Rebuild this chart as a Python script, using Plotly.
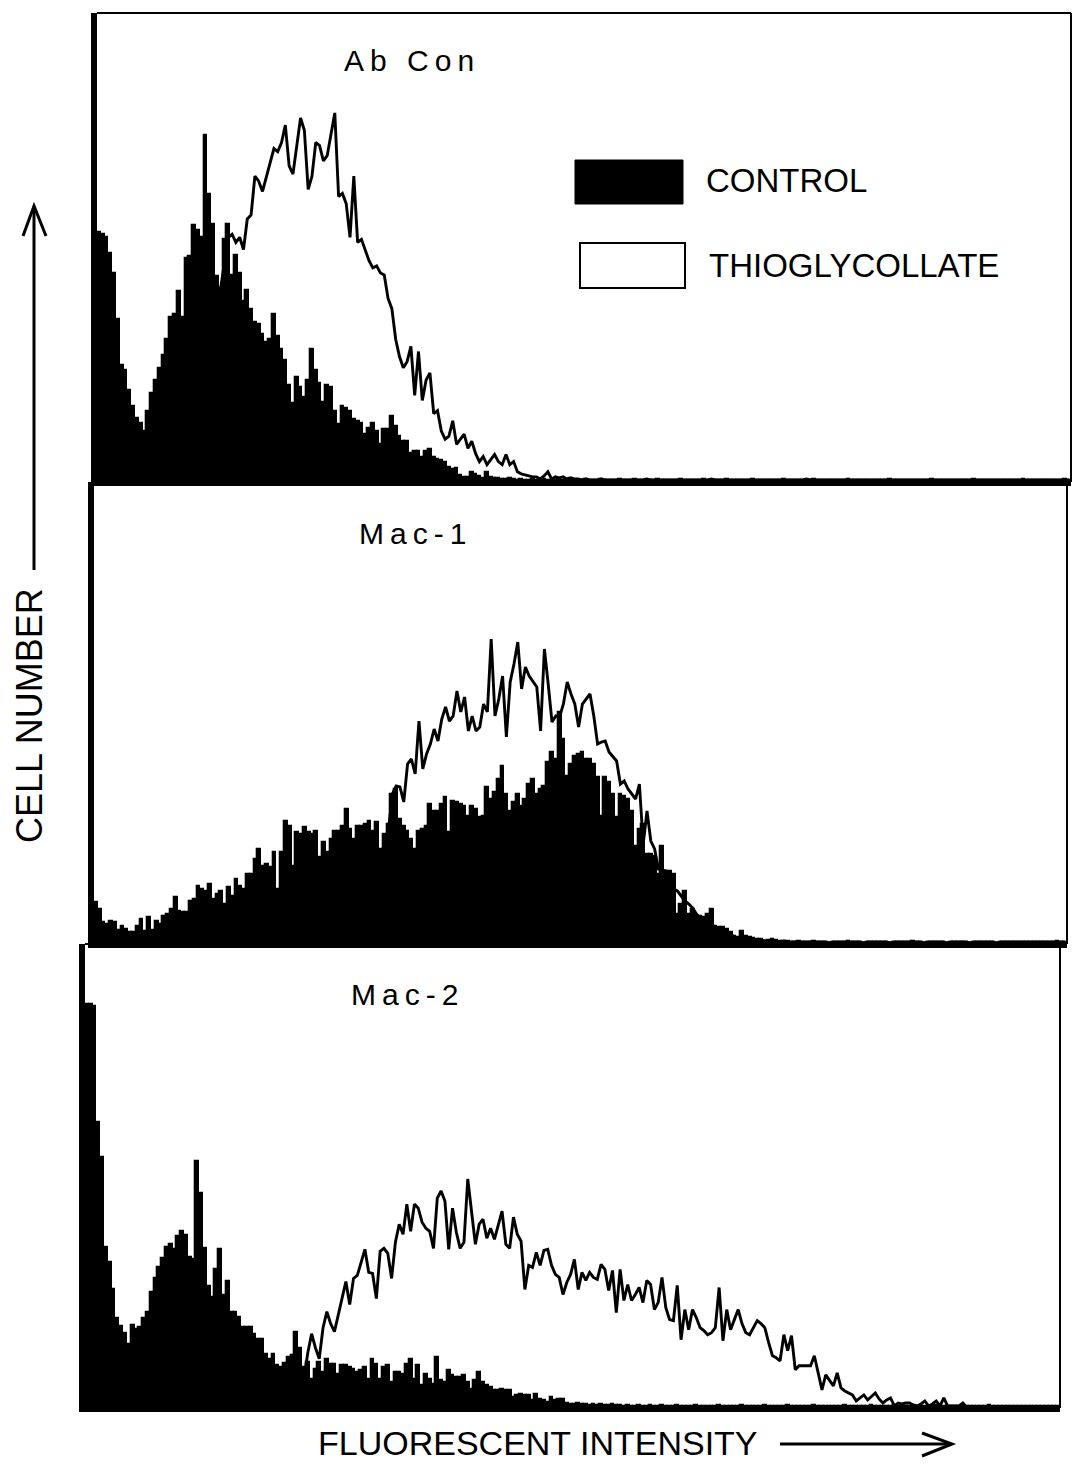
import plotly.graph_objects as go

# Flow cytometry histograms: 256 fluorescence channels per panel
channels = list(range(256))

panel_titles = ["Ab Con", "Mac-1", "Mac-2"]
series_names = ["CONTROL", "THIOGLYCOLLATE"]
x_axis_label = "FLUORESCENT INTENSITY"
y_axis_label = "CELL NUMBER"

# ---- Ab Con ----
abcon_control = [
    245, 243, 240, 225, 205, 160, 115, 110, 90, 75,
    63, 58, 50, 70, 87, 100, 112, 125, 140, 162,
    165, 187, 162, 220, 222, 252, 247, 240, 340, 282,
    253, 202, 190, 238, 253, 203, 223, 205, 178, 188,
    170, 157, 155, 145, 137, 140, 165, 143, 130, 120,
    95, 77, 103, 93, 83, 100, 130, 110, 97, 78,
    95, 93, 70, 57, 75, 73, 70, 62, 60, 58,
    47, 53, 58, 50, 37, 52, 52, 65, 55, 45,
    40, 40, 28, 30, 30, 25, 30, 32, 25, 23,
    22, 20, 15, 13, 14, 7, 5, 5, 10, 8,
    6, 4, 10, 5, 4, 4, 3, 3, 4, 3,
    2, 3, 2, 2, 3, 2, 2, 3, 2, 2,
    2, 3, 2, 2, 4, 2, 2, 2, 3, 2,
    2, 2, 3, 2, 2, 2, 2, 3, 2, 2,
    2, 3, 2, 2, 2, 2, 2, 3, 2, 2,
    2, 2, 2, 3, 2, 2, 2, 2, 2, 3,
    2, 2, 2, 2, 2, 3, 2, 2, 2, 2,
    2, 2, 3, 2, 2, 2, 2, 2, 2, 2,
    3, 2, 2, 2, 2, 2, 2, 2, 3, 2,
    2, 2, 2, 2, 2, 2, 2, 3, 2, 2,
    2, 2, 2, 2, 2, 2, 2, 2, 3, 2,
    2, 2, 2, 2, 2, 2, 2, 2, 2, 3,
    2, 2, 2, 2, 2, 2, 2, 2, 2, 2,
    3, 2, 2, 2, 2, 2, 2, 2, 2, 2,
    2, 2, 2, 3, 2, 2, 2, 2, 2, 2,
    2, 2, 2, 2, 3, 2,
]
abcon_thio = [
    20, 25, 22, 19, 18, 16, 15, 14, 14, 13,
    14, 16, 15, 19, 22, 24, 31, 33, 40, 45,
    55, 60, 72, 78, 95, 101, 118, 125, 141, 148,
    163, 178, 190, 215, 240, 243, 235, 240, 228, 258,
    262, 300, 295, 285, 300, 312, 327, 324, 333, 350,
    310, 302, 330, 357, 345, 287, 300, 333, 330, 315,
    320, 340, 362, 280, 283, 273, 240, 300, 235, 238,
    227, 217, 210, 212, 205, 203, 180, 170, 140, 123,
    112, 118, 133, 85, 128, 80, 100, 107, 67, 70,
    50, 42, 45, 60, 37, 42, 47, 33, 40, 28,
    20, 25, 17, 22, 27, 20, 17, 27, 17, 20,
    10, 8, 7, 6, 5, 5, 3, 6, 10, 3,
    5, 4, 5, 3, 4, 3, 3, 2, 3, 2,
    2, 2, 3, 2, 2, 2, 2, 2, 2, 2,
    2, 2, 2, 2, 3, 2, 2, 2, 2, 2,
    2, 2, 2, 2, 2, 2, 2, 2, 2, 2,
    2, 3, 2, 2, 2, 2, 2, 2, 2, 2,
    2, 2, 2, 2, 2, 2, 2, 2, 2, 2,
    2, 2, 2, 2, 2, 2, 3, 2, 2, 2,
    2, 2, 2, 2, 2, 2, 2, 2, 2, 2,
    2, 2, 2, 2, 2, 2, 2, 2, 2, 2,
    2, 2, 2, 2, 2, 2, 2, 2, 2, 2,
    2, 2, 2, 2, 2, 2, 2, 2, 2, 2,
    2, 2, 2, 2, 2, 2, 2, 2, 2, 2,
    2, 2, 2, 2, 2, 2, 2, 2, 2, 2,
    2, 2, 2, 2, 2, 2,
]

# ---- Mac-1 ----
mac1_control = [
    42, 35, 22, 20, 23, 22, 14, 18, 15, 12,
    12, 18, 25, 13, 27, 14, 23, 20, 28, 30,
    35, 47, 33, 32, 32, 43, 45, 58, 55, 53,
    60, 45, 50, 53, 40, 57, 48, 65, 58, 55,
    70, 70, 85, 95, 78, 80, 77, 92, 55, 92,
    123, 118, 78, 112, 110, 117, 112, 110, 113, 87,
    102, 92, 105, 113, 113, 118, 135, 115, 105, 118,
    118, 120, 123, 113, 122, 95, 110, 120, 150, 155,
    125, 118, 113, 105, 95, 113, 115, 118, 140, 133,
    133, 140, 147, 112, 143, 142, 140, 138, 128, 138,
    135, 127, 128, 157, 145, 152, 165, 178, 150, 133,
    142, 150, 138, 145, 160, 165, 150, 155, 158, 182,
    192, 185, 232, 205, 168, 180, 188, 190, 192, 185,
    185, 180, 167, 128, 167, 162, 150, 127, 150, 148,
    145, 133, 98, 115, 120, 90, 90, 88, 70, 98,
    73, 73, 70, 30, 40, 53, 30, 35, 28, 28,
    27, 30, 35, 18, 17, 17, 15, 12, 8, 7,
    13, 8, 7, 6, 5, 5, 3, 4, 5, 4,
    3, 3, 3, 2, 2, 3, 2, 2, 2, 3,
    2, 2, 2, 1, 2, 2, 2, 2, 3, 2,
    2, 2, 1, 2, 2, 2, 2, 2, 2, 1,
    2, 2, 2, 2, 2, 3, 2, 2, 1, 2,
    2, 2, 2, 2, 1, 2, 2, 2, 2, 2,
    1, 2, 2, 2, 2, 2, 2, 1, 2, 2,
    2, 2, 2, 2, 2, 2, 2, 2, 2, 2,
    2, 2, 2, 3, 2, 2,
]
mac1_thio = [
    5, 4, 4, 3, 4, 3, 3, 4, 3, 3,
    4, 4, 5, 4, 6, 5, 7, 6, 8, 9,
    9, 11, 10, 12, 13, 14, 8, 16, 17, 19,
    20, 22, 23, 25, 26, 28, 30, 31, 34, 36,
    37, 40, 42, 44, 45, 47, 50, 51, 46, 53,
    55, 57, 58, 60, 63, 64, 66, 69, 70, 72,
    74, 75, 77, 80, 81, 83, 85, 86, 88, 90,
    90, 92, 93, 91, 90, 93, 98, 115, 150, 158,
    157, 142, 180, 185, 170, 223, 175, 190, 200, 215,
    203, 225, 237, 223, 228, 253, 232, 247, 213, 228,
    213, 217, 240, 232, 305, 228, 245, 268, 207, 262,
    280, 302, 255, 277, 268, 262, 257, 213, 295, 260,
    222, 228, 227, 240, 262, 250, 240, 217, 240, 245,
    250, 228, 200, 202, 203, 192, 188, 183, 160, 163,
    155, 150, 145, 160, 100, 133, 103, 95, 75, 74,
    73, 70, 55, 53, 48, 43, 40, 36, 30, 26,
    24, 22, 20, 16, 14, 13, 12, 10, 7, 6,
    8, 6, 5, 5, 4, 4, 3, 3, 3, 3,
    2, 3, 2, 2, 2, 2, 2, 2, 2, 2,
    2, 2, 2, 1, 2, 2, 2, 2, 2, 2,
    2, 2, 1, 2, 2, 2, 2, 2, 2, 1,
    2, 2, 2, 2, 2, 2, 2, 2, 1, 2,
    2, 2, 2, 2, 1, 2, 2, 2, 2, 2,
    1, 2, 2, 2, 2, 2, 2, 1, 2, 2,
    2, 2, 2, 2, 2, 2, 2, 2, 2, 2,
    2, 2, 2, 2, 2, 2,
]

# ---- Mac-2 ----
mac2_control = [
    402, 402, 400, 285, 250, 160, 145, 118, 90, 82,
    75, 64, 83, 79, 81, 90, 96, 116, 129, 140,
    149, 160, 163, 158, 171, 176, 172, 150, 148, 246,
    214, 159, 121, 111, 138, 158, 113, 126, 96, 96,
    91, 81, 81, 81, 74, 69, 69, 54, 49, 54,
    43, 41, 45, 51, 53, 76, 60, 41, 46, 29,
    39, 46, 36, 49, 44, 44, 34, 43, 43, 41,
    39, 36, 38, 41, 29, 49, 44, 29, 41, 43,
    26, 36, 36, 34, 44, 49, 29, 43, 23, 34,
    29, 24, 51, 28, 26, 38, 33, 31, 31, 33,
    26, 19, 28, 36, 26, 23, 21, 18, 18, 19,
    18, 18, 11, 13, 14, 13, 13, 8, 14, 9,
    8, 6, 11, 8, 9, 9, 5, 4, 4, 5,
    4, 4, 3, 4, 3, 4, 3, 3, 4, 3,
    3, 2, 3, 2, 2, 3, 2, 2, 3, 2,
    2, 3, 2, 2, 2, 3, 2, 2, 2, 2,
    3, 2, 2, 2, 2, 2, 3, 2, 2, 2,
    2, 2, 3, 2, 2, 2, 2, 2, 3, 2,
    2, 2, 2, 2, 3, 2, 2, 2, 2, 2,
    2, 3, 2, 2, 2, 2, 2, 2, 2, 3,
    2, 2, 2, 2, 2, 2, 3, 2, 2, 2,
    2, 2, 2, 2, 2, 2, 2, 2, 2, 2,
    2, 2, 2, 3, 2, 2, 2, 2, 2, 2,
    2, 2, 2, 2, 2, 2, 2, 3, 2, 2,
    2, 2, 2, 2, 2, 2, 2, 2, 2, 2,
    2, 2, 2, 2, 2, 2,
]
mac2_thio = [
    18, 16, 14, 12, 11, 9, 8, 8, 7, 7,
    6, 6, 6, 7, 6, 7, 8, 7, 8, 9,
    9, 9, 10, 9, 10, 11, 10, 11, 12, 12,
    12, 13, 14, 13, 15, 14, 16, 15, 17, 16,
    18, 17, 19, 18, 20, 19, 21, 20, 22, 21,
    23, 22, 24, 25, 24, 26, 27, 29, 55, 74,
    60, 49, 80, 96, 84, 76, 93, 110, 126, 103,
    129, 132, 145, 158, 135, 134, 109, 156, 159, 154,
    129, 165, 183, 173, 203, 176, 203, 199, 185, 179,
    176, 159, 209, 216, 206, 158, 199, 175, 159, 165,
    228, 195, 163, 183, 188, 169, 179, 168, 183, 196,
    163, 159, 190, 173, 166, 118, 142, 140, 155, 142,
    157, 158, 142, 133, 130, 113, 125, 133, 148, 118,
    135, 127, 135, 130, 128, 143, 138, 117, 137, 95,
    138, 107, 123, 107, 113, 120, 105, 127, 123, 98,
    105, 130, 100, 88, 87, 122, 68, 98, 78, 98,
    90, 80, 77, 73, 75, 80, 120, 67, 98, 78,
    88, 98, 84, 75, 73, 80, 87, 84, 80, 65,
    52, 50, 47, 73, 57, 72, 38, 42, 42, 42,
    42, 52, 35, 18, 33, 28, 22, 35, 20, 17,
    15, 13, 7, 10, 13, 8, 12, 15, 9, 5,
    8, 10, 2, 5, 4, 5, 5, 3, 2, 4,
    7, 2, 4, 7, 2, 10, 2, 2, 2, 2,
    5, 1, 1, 1, 1, 1, 1, 1, 1, 1,
    1, 1, 1, 1, 1, 1, 1, 1, 1, 1,
    1, 1, 1, 1, 1, 1,
]

control_series = [abcon_control, mac1_control, mac2_control]
thio_series = [abcon_thio, mac1_thio, mac2_thio]

# ---- page geometry (pixels) ----
W, H = 1074, 1464
FONT = "Liberation Sans, Arial, sans-serif"


def fx(px):
    return px / W


def fy(py):
    return 1 - py / H


# frame of each panel: left, right, top, bottom (px) and y-axis maximum
frames = [
    (97, 1071, 13, 482, 460),
    (94, 1067, 482, 944, 462),
    (85, 1060, 944, 1408, 462),
]
title_pos = [(412, 60), (415, 533), (407, 994)]

fig = go.Figure()
layout_axes = {}
shapes = []
annotations = []

for i, (x0, x1, y0, y1, ymax) in enumerate(frames):
    suffix = "" if i == 0 else str(i + 1)
    xa, ya = "x" + suffix, "y" + suffix
    # control histogram: solid black bars (outline closes the seams)
    fig.add_trace(go.Bar(
        x=channels, y=control_series[i], width=1,
        marker=dict(color="black", line=dict(color="black", width=1.3)),
        name=series_names[0], showlegend=False, xaxis=xa, yaxis=ya,
        hoverinfo="skip",
    ))
    # thioglycollate histogram: open outline
    fig.add_trace(go.Scatter(
        x=channels, y=thio_series[i], mode="lines",
        line=dict(color="black", width=2.9),
        name=series_names[1], showlegend=False, xaxis=xa, yaxis=ya,
        hoverinfo="skip",
    ))
    layout_axes["xaxis" + suffix] = dict(
        domain=[fx(x0), fx(x1)], range=[-0.5, 255.5], anchor=ya,
        showline=True, linewidth=4, linecolor="black", mirror=False,
        showticklabels=False, ticks="", showgrid=False, zeroline=False,
        fixedrange=True,
    )
    layout_axes["yaxis" + suffix] = dict(
        domain=[fy(y1), fy(y0)], range=[0, ymax], anchor=xa,
        showline=True, linewidth=6, linecolor="black", mirror=False,
        showticklabels=False, ticks="", showgrid=False, zeroline=False,
        fixedrange=True,
    )
    # thin top and right edges of the frame
    shapes.append(dict(type="line", xref=xa + " domain", yref=ya + " domain",
                       x0=0, x1=1, y0=1, y1=1,
                       line=dict(color="black", width=2)))
    shapes.append(dict(type="line", xref=xa + " domain", yref=ya + " domain",
                       x0=1, x1=1, y0=0, y1=1,
                       line=dict(color="black", width=2)))
    tx, ty = title_pos[i]
    annotations.append(dict(
        xref="paper", yref="paper", x=fx(tx), y=fy(ty),
        xanchor="center", yanchor="middle", showarrow=False,
        text='<span style="letter-spacing:6px">' + panel_titles[i] + "</span>",
        font=dict(family=FONT, size=30, color="black"),
    ))

# legend swatches
shapes.append(dict(type="rect", xref="paper", yref="paper",
                   x0=fx(575), x1=fx(683), y0=fy(204), y1=fy(160),
                   fillcolor="black", line=dict(color="black", width=1)))
shapes.append(dict(type="rect", xref="paper", yref="paper",
                   x0=fx(580), x1=fx(685), y0=fy(288), y1=fy(243),
                   fillcolor="white", line=dict(color="black", width=2)))
annotations.append(dict(
    xref="paper", yref="paper", x=fx(704), y=fy(181), xanchor="left",
    yanchor="middle", showarrow=False, text=series_names[0],
    font=dict(family=FONT, size=33, color="black"),
))
annotations.append(dict(
    xref="paper", yref="paper", x=fx(707), y=fy(265), xanchor="left",
    yanchor="middle", showarrow=False, text=series_names[1],
    font=dict(family=FONT, size=33, color="black"),
))

# axis captions with open arrows
annotations.append(dict(
    xref="paper", yref="paper", x=fx(538), y=fy(1443), xanchor="center",
    yanchor="middle", showarrow=False, text=x_axis_label,
    font=dict(family=FONT, size=34, color="black"),
))
annotations.append(dict(
    xref="paper", yref="paper", x=fx(29), y=fy(716), xanchor="center",
    yanchor="middle", showarrow=False, text=y_axis_label, textangle=-90,
    font=dict(family=FONT, size=36, color="black"),
))

arrow_line = dict(color="black", width=3)
shapes.append(dict(type="line", xref="paper", yref="paper",
                   x0=fx(34), x1=fx(34), y0=fy(570), y1=fy(207), line=arrow_line))
shapes.append(dict(type="path", xref="paper", yref="paper",
                   path=f"M {fx(23)},{fy(236)} L {fx(34)},{fy(206)} L {fx(46)},{fy(236)}",
                   line=arrow_line))
shapes.append(dict(type="line", xref="paper", yref="paper",
                   x0=fx(780), x1=fx(951), y0=fy(1444), y1=fy(1444), line=arrow_line))
shapes.append(dict(type="path", xref="paper", yref="paper",
                   path=f"M {fx(922)},{fy(1433)} L {fx(952)},{fy(1444)} L {fx(922)},{fy(1456)}",
                   line=arrow_line))

fig.update_layout(
    width=W, height=H,
    margin=dict(l=0, r=0, t=0, b=0),
    paper_bgcolor="white", plot_bgcolor="white",
    bargap=0, barmode="overlay",
    shapes=shapes, annotations=annotations,
    showlegend=False,
    **layout_axes,
)

fig.write_html("out.html", config={"displayModeBar": False})
